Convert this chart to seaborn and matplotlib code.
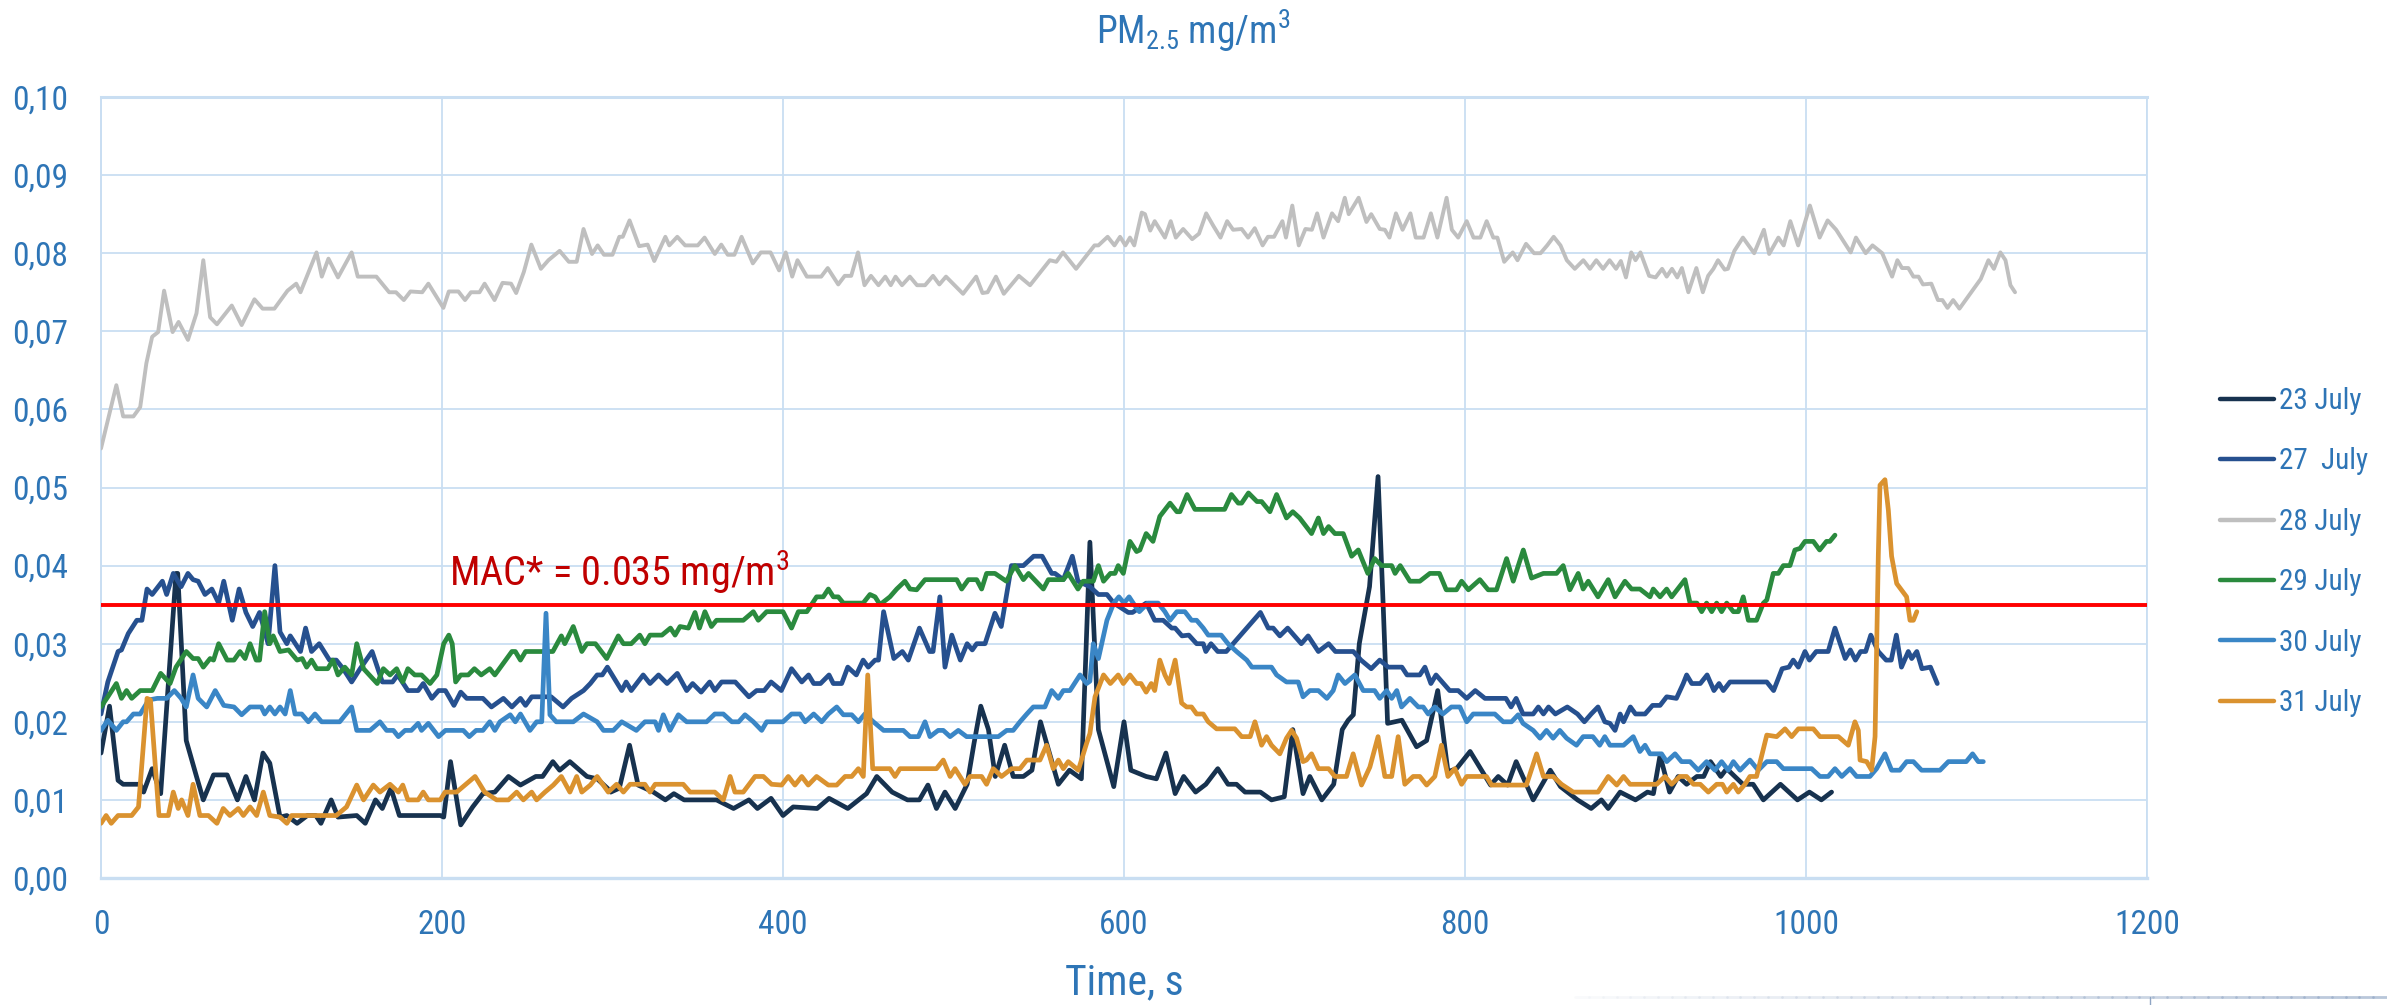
import numpy as np
import pandas as pd
import matplotlib
matplotlib.use("Agg")
import matplotlib.pyplot as plt
from matplotlib import font_manager
from matplotlib.ticker import FuncFormatter
from matplotlib.lines import Line2D
import seaborn as sns

# PM2.5 concentration (mg/m3) vs. time (s), one list of (time, value) per measuring day
JULY_23 = [(0,.0160),(5,.0220),(10,.0125),(13,.0120),(19,.0120),(23,.0120),(25,.0110),(30,.0140),(35,.0108),(44,.0390),(45,.0390),(50,.0176),(56,.0130),(60,.0100),(66,.0132),(74,.0132),(80,.0100),(85,.0130),(90,.0100),(95,.0160),(99,.0147),(105,.0078),(109,.0080),(115,.0070),(121,.0080),(126,.0080),(129,.0070),(135,.0100),(139,.0078),(150,.0080),(155,.0070),(161,.0100),(165,.0089),(170,.0115),(175,.0080),(199,.0080),(201,.0078),(205,.0149),(211,.0068),(218,.0091),(224,.0108),(231,.0110),(239,.0130),(246,.0119),(255,.0130),(259,.0130),(265,.0149),(269,.0138),(275,.0149),(285,.0130),(291,.0127),(297,.0115),
           (299,.0110),(304,.0115),(310,.0170),(315,.0119),(324,.0110),(331,.0100),(336,.0108),(342,.0100),(361,.0100),(371,.0089),(380,.0100),(385,.0089),(393,.0102),(400,.0080),(406,.0091),(420,.0089),(427,.0102),(438,.0089),(449,.0108),(455,.0130),(464,.0110),(473,.0100),(480,.0100),(485,.0119),(490,.0089),(495,.0110),(501,.0089),(508,.0120),(512,.0172),(516,.0220),(520.5,.0190),(524.5,.0130),(530,.0170),(535,.0130),(541,.0130),(546,.0138),(551,.0200),(561.5,.0120),(568,.0138),(575,.0127),(580,.0430),
           (585,.0190),(594,.0117),(600,.0200),(604,.0138),(613,.0130),(619,.0127),(624.6,.0160),(630,.0108),(635,.0130),(642,.0110),(648,.0120),(655,.0140),(661,.0120),(666,.0120),(671,.0110),(680,.0110),(686.5,.0100),(694,.0104),(699,.0190),(705,.0108),(709,.0130),(716,.0100),(723,.0120),(728,.0190),(731.5,.0202),(734.5,.0209),(738,.0300),(744,.0373),(749,.0514),(752,.0350),(754.6,.0198),(763,.0202),(771.6,.0168),(777.5,.0176),(784,.0240),(790,.0136),(795,.0140),(803,.0162),(815,.0119),(819.5,.0130),(825,.0119),(830,.0149),(840,.0100),(850,.0138),(856,.0117),(866,.0100),(874,.0089),(880,.0100),(884,.0089),
           (891,.0110),(900,.0100),(907,.0110),(910.5,.0108),(914.4,.0157),(920,.0110),(925,.0130),(930,.0120),(936,.0130),(940,.0130),(944,.0149),(950,.0130),(953.5,.0140),(963,.0120),(969,.0120),(975,.0100),(985,.0120),(995,.0100),(1002,.0110),(1009,.0100),(1015,.0110)]

JULY_27 = [(0,.0210),(4,.0251),(10,.0290),(12,.0292),(16,.0313),(21,.0330),(24,.0330),(27,.0370),(30,.0363),(36,.0380),(38.5,.0363),(42.4,.0390),(47,.0373),(51,.0390),(54,.0382),(57,.0380),(61,.0363),(65,.0370),(69,.0352),(72,.0380),(77,.0330),(81,.0370),(85,.0340),(89,.0322),(93,.0340),(98,.0300),(102,.0400),(105,.0315),(109,.0300),(111,.0310),(117,.0290),(120,.0320),(123.5,.0290),(128,.0300),(134,.0279),(138,.0279),(142,.0268),(147,.0251),(152,.0268),(159,.0290),(165,.0251),(171,.0251),(174,.0260),(180,.0240),(186,.0240),(189,.0249),(194,.0230),(198,.0240),(202,.0240),(207,.0221),(211,.0238),(214.5,.0230),(224,.0230),(229,.0219),(236,.0230),(241,.0219),(246,.0230),(249,.0221),(252.6,.0232),(264,.0232),(271,.0219),(276,.0230),(283,.0240),(287,.0249),(291,.0260),(294,.0260),(297,.0270),
           (305.4,.0240),(308,.0251),(311,.0240),(318,.0260),(322,.0249),(327,.0260),(332,.0249),(338,.0262),(343.5,.0240),(347,.0249),(352,.0238),(357,.0251),(360,.0240),(364,.0251),(372,.0251),(380,.0232),(384.5,.0240),(389,.0240),(393,.0251),(399,.0240),(405,.0268),(411,.0251),(415,.0260),(418,.0249),(422,.0249),(427,.0260),(429.5,.0249),(434.4,.0249),(438,.0270),(443,.0260),(447,.0279),(450,.0270),(454,.0279),(456,.0279),(459,.0341),(465,.0281),(470,.0290),(473.5,.0279),(480,.0320),(486,.0290),(488,.0290),(492,.0360),(495,.0270),(499,.0311),(504,.0279),(508,.0300),(511,.0292),(513.6,.0300),(518.5,.0300),(524.3,.0339),(528,.0322),(534,.0400),(541,.0400),(547,.0412),(552,.0412),(557.6,.0390),(559.5,.0390),(564.4,.0382),(569.7,.0412),(573,.0380),
           (580,.0373),(585,.0363),(590,.0363),(594,.0352),(602.5,.0340),(605,.0340),(613,.0352),(618,.0330),(623,.0330),(628,.0320),(630,.0320),(634,.0310),(638,.0311),(642.6,.0300),(646.5,.0300),(648,.0290),(651,.0300),(655,.0290),(660,.0290),(664,.0300),(670,.0315),(680,.0340),(684.6,.0320),(687.5,.0320),(691.4,.0310),(696,.0320),(704,.0300),(708,.0310),(714,.0290),(720,.0300),(724,.0290),(734.5,.0290),(739,.0279),(745,.0268),(750,.0279),(755,.0270),(763,.0270),(766,.0260),(773.5,.0260),(776.5,.0270),(780,.0249),(783,.0260),(791,.0240),(796,.0240),(801,.0230),(806,.0240),(811.7,.0230),(824,.0230),(827,.0219),(830,.0230),(834,.0210),(840,.0210),(843,.0219),(846,.0210),(849,.0219),(853,.0210),(860,.0219),(866,.0210),(870,.0200),(874,.0210),(878,.0219),(882,.0200),
           (885,.0198),(888,.0189),(891,.0210),(893,.0200),(897,.0219),(900,.0210),(905.6,.0210),(910,.0221),(914.4,.0221),(918.3,.0232),(924,.0230),(928,.0249),(930,.0260),(933,.0249),(938,.0249),(942,.0260),(946,.0240),(949,.0249),(951.5,.0240),(955.4,.0251),(977,.0251),(981,.0240),(986,.0268),(990,.0270),(992.5,.0279),(995.5,.0270),(999.4,.0290),(1002,.0279),(1006,.0290),(1013,.0290),(1017,.0320),(1023,.0281),(1026,.0292),(1029,.0279),(1032,.0290),(1035,.0290),(1038,.0311),(1042.4,.0290),(1047,.0279),(1050,.0279),(1053,.0311),(1056,.0270),(1060,.0290),(1062,.0281),(1065,.0290),(1068,.0268),(1073,.0270),(1077,.0249)]

JULY_28 = [(0,.0550),(9,.0631),(13,.0591),(19,.0591),(23,.0603),(26.6,.0659),(30,.0693),(33.5,.0699),(37,.0752),(42,.0699),(45.5,.0712),(51,.0689),(56,.0723),(60,.0791),(64,.0718),(68,.0709),(76.7,.0733),(82.5,.0708),(90,.0741),(94.8,.0729),(101.7,.0729),(109.4,.0752),(114.5,.0761),(117,.0750),(126.4,.0801),(129.5,.0770),(133.4,.0793),(139,.0769),(147,.0801),(150.6,.0770),(161.5,.0770),(169,.0750),(173,.0750),(177.6,.0740),(181.5,.0751),(188.4,.0750),(192,.0761),(200.8,.0730),(204,.0751),(209.6,.0751),(213.5,.0740),(217,.0750),(222,.0750),(225,.0761),(230.8,.0740),(235.5,.0762),(240.5,.0761),(243.5,.0749),(248,.0776),(252.4,.0811),(258,.0780),(262.4,.0791),(269,.0803),(274.4,.0789),(279,.0789),(283,.0831),(288,.0799),(291.3,.0810),(295,.0798),(300,.0798),(304,.0821),(306,.0821),(310,.0842),(315.6,.0809),(320.6,.0811),(324.5,.0790),(331,.0821),(333.3,.0810),(338,.0821),(342.6,.0810),(350,.0810),(354,.0820),(360,.0799),(363.8,.0811),(367.6,.0798),(371.5,.0798),(375.7,.0821),(382.3,.0787),(387,.0801),(392.7,.0801),(397.7,.0778),(401.6,.0801),(405.4,.0770),(408.5,.0791),(414,.0770),(422.4,.0770),(426.2,.0781),(432.4,.0760),(436.2,.0771),(440,.0771),(444,.0801),(447.8,.0759),(451.6,.0771),(456,.0759),(460,.0770),(463.2,.0759),(466,.0770),(469.8,.0759),(474.4,.0770),(478.6,.0759),(483.3,.0759),(488,.0771),(491.7,.0760),(495.6,.0770),(500.6,.0759),(505.6,.0748),(513.3,.0770),(517,.0749),(520,.0750),(524.9,.0770),(529.5,.0748),(538.3,.0771),(544.9,.0759),(556.5,.0791),(560.3,.0789),(564.2,.0801),(571.9,.0780),(582.7,.0810),(585,.0810),(590.4,.0821),(594.4,.0810),(597.7,.0821),
           (600.8,.0810),(603.5,.0820),(606,.0810),(610.4,.0852),(612.3,.0850),(615.4,.0829),(618,.0841),(624,.0820),(627.4,.0841),(630.4,.0820),(634.7,.0831),(640,.0818),(644,.0825),(648.2,.0851),(652.4,.0835),(656.6,.0820),(660.5,.0841),(664,.0830),(669,.0831),(672.8,.0820),(676.7,.0832),(681.3,.0810),(684.4,.0821),(688,.0821),(692.9,.0841),(695,.0820),(698.7,.0861),(702.5,.0810),(706.4,.0831),(710.2,.0830),(713.3,.0851),(717,.0820),(722,.0851),(725.6,.0841),(729.5,.0871),(731.8,.0850),(737.6,.0871),(742.2,.0840),(745,.0850),(750,.0831),(753,.0830),(755.7,.0820),(759.5,.0851),(763.4,.0830),(768,.0851),(771.1,.0820),(775.7,.0820),(780,.0851),(783.8,.0820),(789.2,.0871),(792.3,.0830),(796,.0820),(801,.0841),(805,.0820),(809,.0820),(812.7,.0841),(816.6,.0820),(819,.0820),(823,.0789),(828,.0801),(830.8,.0791),(835.8,.0812),(840.5,.0800),(844.3,.0800),(848.2,.0810),(852,.0821),(856,.0810),(859.7,.0791),(864.4,.0780),(869.4,.0791),(873.3,.0780),(877,.0791),(881,.0780),(884.8,.0791),(888.6,.0780),(891.4,.0790),(894.4,.0769),(897.5,.0801),(900,.0791),(902.9,.0801),(908,.0771),(911.8,.0769),(915.6,.0780),(918.3,.0770),(921.4,.0780),(924.5,.0769),(927.2,.0781),(931,.0750),(935.7,.0781),(939.5,.0750),(942.6,.0771),(945.7,.0780),(948.4,.0791),(952.3,.0779),(954.2,.0780),(958,.0803),(963,.0820),(969.6,.0800),(975.3,.0830),(978.4,.0799),(983.8,.0820),(986.9,.0810),(990.8,.0841),(995.4,.0810),(1002.3,.0861),(1008,.0820),(1012.7,.0842),(1017.7,.0830),(1026.2,.0801),(1029.3,.0820),(1035,.0800),(1039,.0810),(1044.7,.0800),(1050.5,.0770),(1053.6,.0791),(1056.3,.0781),(1060,.0781),(1063,.0770),(1066,.0770),(1068.6,.0760),(1073.5,.0761),(1077.4,.0740),(1080,.0740),(1083,.0730),(1086.3,.0740),(1090,.0729),(1102.5,.0767),(1107,.0791),(1110.2,.0780),(1114,.0801),(1117,.0791),(1119.9,.0759),(1122.6,.0750)]

JULY_29 = [(0,.0219),(4,.0232),(9,.0249),(12,.0230),(15,.0240),(18,.0230),(23,.0240),(30,.0240),(35,.0262),(40.5,.0249),(44,.0270),(50,.0290),(54,.0281),(57,.0281),(60,.0270),(64,.0281),(66,.0279),(69,.0300),(74,.0279),(78,.0279),(81.5,.0290),(84.5,.0281),(87.4,.0300),(91,.0279),(93,.0279),(96,.0341),(99,.0300),(101,.0310),(105,.0290),(110,.0292),(115,.0279),(118,.0281),(120.6,.0270),(123.5,.0279),(126.5,.0268),(133,.0268),(136,.0279),(139,.0260),(143,.0270),(147,.0260),(150,.0300),(154,.0268),(162,.0249),(165.6,.0268),(169.5,.0260),(173.4,.0268),(177,.0251),(180,.0268),(184,.0260),(188,.0260),(193,.0249),(197,.0260),(201,.0300),(204,.0311),(206,.0300),(208,.0251),(211,.0260),(215.4,.0260),(219,.0268),(223,.0260),(228,.0268),(231,.0260),(241,.0290),(243,.0290),(246,.0279),(249,.0290),(258.6,.0290),(265,.0290),(270,.0310),(272,.0300),(277,.0322),(282,.0290),(285,.0300),(290,.0300),(296.6,.0281),(303.4,.0310),(306.4,.0300),(311,.0300),(316,.0311),(319,.0300),(322,.0311),(329,.0311),(334,.0320),(336.7,.0311),(339.6,.0322),(344.5,.0320),(348.4,.0340),(351,.0320),(354.2,.0341),(358,.0322),(361,.0330),(376.7,.0330),(382.6,.0341),(385.5,.0330),(390.4,.0341),(400,.0341),(405,.0320),(409,.0341),(414,.0341),(419.7,.0360),(423.6,.0360),(426.6,.0370),(429.5,.0360),(432.4,.0360),(435.4,.0352),(447,.0352),(451,.0363),(454,.0360),(456.9,.0350),(462.7,.0360),(466.7,.0370),(471.5,.0380),(474.5,.0370),(478.4,.0369),(483.3,.0382),(501.9,.0382),(504.8,.0370),(508.7,.0382),(513.6,.0382),(516.5,.0370),(519.4,.0390),(524.3,.0390),(531,.0380),(536,.0400),(541,.0382),(544,.0390),(552.7,.0370),(555.6,.0382),(564.4,.0382),(567.3,.0390),(573,.0370),(576,.0380),(582,.0380),(585,.0400),(588,.0380),(592,.0390),(594.7,.0390),(596.6,.0400),(599.6,.0390),
           (603.5,.0431),(607.4,.0418),(609.3,.0420),(613,.0441),(617,.0431),(621,.0463),(627,.0480),(631,.0469),(632.8,.0469),(637,.0491),(641.6,.0472),(659,.0472),(663,.0491),(667,.0480),(669,.0480),(673,.0493),(678,.0482),(680.7,.0482),(685.6,.0469),(689.5,.0491),(695.3,.0461),(699,.0469),(703,.0461),(710,.0441),(714,.0461),(717,.0441),(720,.0450),(723.7,.0441),(728.6,.0441),(733.5,.0412),(737.4,.0420),(743,.0390),(747,.0409),(751,.0400),(757,.0400),(759,.0390),(762,.0400),(767.7,.0380),(773.5,.0380),(779.4,.0390),(785,.0390),(789,.0369),(795,.0369),(798,.0380),(802,.0369),(808.7,.0382),(813.6,.0369),(818.5,.0369),(824.4,.0409),(828.3,.0380),(834.2,.0420),(839,.0384),(846,.0390),(853.7,.0390),(857.6,.0400),(861.5,.0369),(866.4,.0390),(869.3,.0370),(872.3,.0380),(878,.0360),(884,.0382),(888,.0360),(893.8,.0380),(897.7,.0370),(902.6,.0370),(908.5,.0360),(910.4,.0370),(914.4,.0360),(918.3,.0370),(921.2,.0360),(929,.0382),(932,.0352),(936,.0352),(938.8,.0341),(941.7,.0352),(944.7,.0341),(947.6,.0352),(950.5,.0341),(953.5,.0352),(957.4,.0341),(960.3,.0341),(963.2,.0360),(966.2,.0330),(971,.0330),(975,.0352),(977,.0356),(980.8,.0390),(983.8,.0390),(986.7,.0400),(990.6,.0400),(993.5,.0420),(996.5,.0422),(999.4,.0431),(1004.3,.0431),(1008,.0420),(1012,.0431),(1014,.0431),(1017,.0439)]

JULY_30 = [(0,.0189),(4,.0202),(9,.0189),(13,.0200),(15,.0200),(19,.0210),(23,.0210),(28,.0228),(33,.0230),(38.5,.0230),(43,.0240),(47,.0230),(50,.0219),(54,.0260),(57,.0230),(62,.0219),(67,.0240),(72,.0221),(78,.0219),(82.5,.0209),(87.4,.0219),(94,.0219),(96,.0210),(99,.0219),(102,.0210),(105,.0219),(108,.0210),(111,.0240),(113.8,.0210),(117.7,.0210),(121.6,.0200),(125.5,.0210),(129.4,.0200),(140,.0200),(147,.0219),(150,.0189),(157.8,.0189),(163.6,.0200),(167.5,.0189),(171.5,.0189),(174.4,.0181),(178.3,.0189),(182,.0189),(186,.0198),(188,.0189),(192,.0198),(198,.0181),(202,.0189),(212.5,.0189),(216,.0181),(220,.0189),(224,.0189),(228,.0200),(231,.0189),(234,.0200),(240,.0209),(243,.0200),(246,.0210),(251.6,.0189),(255.5,.0200),(258.5,.0200),(261,.0339),(263.3,.0209),(267,.0200),(277,.0200),(283,.0210),(291,.0200),(294.7,.0189),(300.5,.0189),(305.4,.0200),(314,.0189),(319,.0200),(325,.0200),(327,.0189),(329.8,.0209),(333.7,.0189),(338.6,.0209),(343.5,.0200),(355.2,.0200),(360,.0210),(365,.0210),(370,.0200),(374,.0200),(377.7,.0209),(382.6,.0200),(387.5,.0189),(390.4,.0200),(400,.0200),(405,.0210),(410,.0210),(413,.0200),(418,.0210),(422.7,.0200),(426.6,.0210),(431.5,.0219),(435.4,.0209),(440.3,.0209),(444.2,.0200),(448,.0210),(453,.0200),(459,.0189),(470.6,.0189),(474.5,.0181),(479.4,.0181),(483.3,.0200),(486.2,.0181),(491,.0189),(494,.0189),(498,.0181),(502.8,.0189),(507.7,.0181),(526.3,.0181),(531.2,.0189),(535,.0189),(539,.0200),(543,.0210),(546.8,.0219),(553.6,.0219),(557.6,.0240),(561.5,.0230),(564.4,.0240),(568.3,.0240),(574.2,.0260),(578.1,.0249),(580,.0252),(582,.0300),(585,.0281),(590,.0330),(594,.0352),(597,.0360),(600,.0352),(603,.0360),(606,.0350),(609,.0341),(614,.0352),(620,.0352),(624,.0341),(627,.0330),(631,.0341),(635.7,.0341),(639.6,.0330),(642.6,.0330),(646.5,.0320),(649.4,.0311),(657,.0311),(661,.0300),(666,.0290),(672,.0279),(675,.0270),(686.5,.0270),(689.5,.0260),(695.3,.0251),(702.2,.0251),(705,.0232),(709,.0240),(714,.0240),(719,.0230),(722.7,.0240),(725.6,.0260),(729.6,.0249),(735.4,.0260),(740.3,.0240),(747,.0240),(750,.0230),(754,.0240),(757,.0230),(760,.0240),(762.8,.0219),(767.7,.0230),(772.6,.0219),(775.5,.0219),(778.4,.0210),(782.3,.0219),(787,.0210),(792,.0219),(797,.0219),(801,.0200),(804.8,.0210),(817.5,.0210),(822.4,.0200),(827.3,.0200),(831.2,.0209),(834,.0198),(840,.0189),(844,.0179),(847.8,.0189),(851.7,.0179),(855.6,.0189),(859.6,.0179),(865.4,.0170),(869.3,.0181),(875,.0181),(879,.0170),(882,.0181),(885,.0170),(893,.0170),(898.7,.0181),(902.6,.0162),(905.6,.0170),(908.5,.0159),(915.3,.0159),(918.3,.0149),(923.2,.0159),(927,.0149),(932,.0149),(936.8,.0138),(941.7,.0149),(946.6,.0138),(950.5,.0149),(954.4,.0138),(957.4,.0149),(961.3,.0138),(967.1,.0151),(972,.0138),(977,.0149),(982.8,.0149),(986.7,.0140),(1003.3,.0140),(1008.2,.0130),(1013,.0130),(1017,.0140),(1021,.0130),(1025.8,.0140),(1029.7,.0130),(1037.5,.0130),(1041.4,.0140),(1046.3,.0159),(1050.2,.0138),(1055,.0138),(1059,.0149),(1063,.0149),(1067.8,.0138),(1078.6,.0138),(1083.5,.0149),(1094,.0149),(1097.7,.0159),(1101,.0149),(1104,.0149)]

JULY_31 = [(0,.0070),(3,.0080),(6,.0070),(10,.0080),(18,.0080),(22,.0091),(27,.0230),(29,.0228),(34,.0080),(39.5,.0080),(42.4,.0110),(45.3,.0089),(47.3,.0100),(51,.0080),(54,.0120),(58,.0080),(63,.0080),(68,.0070),(71.7,.0089),(75.6,.0080),(80.5,.0089),(83.5,.0080),(87.4,.0091),(91.3,.0080),(95.2,.0110),(99,.0080),(105,.0078),(109,.0070),(111.8,.0080),(138,.0080),(144,.0091),(150,.0119),(154,.0100),(159.7,.0119),(163.6,.0110),(169.5,.0120),(174.4,.0110),(177,.0119),(180,.0100),(186,.0100),(189,.0110),(192,.0100),(199,.0100),(201.8,.0110),(208.6,.0110),(213.5,.0119),(219.4,.0130),(225,.0110),(232,.0100),(239,.0100),(243.8,.0110),(247.7,.0100),(252.6,.0110),(255.5,.0100),(260.4,.0110),(265.3,.0119),(270,.0130),(275,.0110),(279,.0130),(282,.0110),(287,.0119),(291,.0130),(297.5,.0110),(302.4,.0120),(306.4,.0110),(310.3,.0120),(319,.0120),(322,.0110),(325,.0120),(341.5,.0120),(345.5,.0110),(360,.0110),(365,.0100),(369,.0130),(371.8,.0110),(376.7,.0110),(383.6,.0130),(388.5,.0130),(393.3,.0120),(399.2,.0119),(403.1,.0130),(407,.0119),(411,.0130),(414.8,.0119),(419.7,.0130),(426.6,.0119),(431.5,.0119),(436.4,.0130),(440.3,.0130),(444.2,.0140),(447.1,.0130),(449.7,.0260),(452.6,.0140),(462.7,.0140),(465.7,.0130),(468.6,.0140),(490,.0140),(494,.0151),(498,.0130),(500.9,.0140),(503.8,.0130),(506.7,.0120),(509.7,.0130),(516.5,.0130),(519.4,.0120),(523.3,.0140),(528.2,.0130),(534.1,.0140),(539,.0140),(543,.0151),(550.7,.0151),(554.6,.0170),(558.5,.0140),(561.5,.0151),(564.4,.0140),(567.3,.0149),(573.2,.0138),(578,.0172),(580,.0185),(583,.0232),(588,.0260),(592,.0249),(596.6,.0260),(599.6,.0249),(603.5,.0260),(607.4,.0249),(610,.0249),(613,.0238),(616,.0249),(618,.0240),(621,.0279),(624,.0260),(626.5,.0249),(630,.0279),(633.8,.0224),(636.7,.0219),(639.6,.0219),(642.6,.0210),(646.5,.0210),(649.4,.0200),(654.3,.0191),(665,.0191),(669,.0181),(674,.0181),(676.8,.0200),(680.7,.0170),(683.6,.0181),(686.5,.0170),(691.4,.0159),(695.3,.0179),(698.3,.0189),(701.2,.0179),(705,.0149),(707,.0151),(710,.0159),(714,.0140),(720,.0140),(723.7,.0130),(730.5,.0130),(734.4,.0159),(739.3,.0119),(744.2,.0142),(749,.0181),(753,.0130),(757,.0130),(760.8,.0181),(764.7,.0120),(769.6,.0130),(773.5,.0130),(777.5,.0119),(782.3,.0130),(786.2,.0170),(790,.0130),(794,.0140),(798,.0120),(801,.0130),(812.6,.0130),(815.6,.0119),(836,.0119),(842,.0159),(846,.0130),(851.7,.0130),(856.6,.0120),(863.5,.0110),(878,.0110),(884,.0130),(889,.0119),(893,.0130),(896.8,.0120),(912.4,.0120),(917.3,.0130),(921.2,.0120),(926,.0130),(930,.0130),(934,.0120),(938,.0120),(942.7,.0110),(947.6,.0120),(951,.0120),(953.5,.0110),(957.4,.0120),(960.3,.0110),(964.2,.0120),(967.1,.0130),(971,.0130),(977,.0183),(982.8,.0181),(987.7,.0191),(991.6,.0181),(995.5,.0191),(1004.3,.0191),(1008.2,.0181),(1019,.0181),(1024.8,.0170),(1028.7,.0200),(1030.7,.0189),(1031.7,.0151),(1035.6,.0149),(1038.5,.0138),(1040.5,.0181),(1042.4,.0412),(1043.4,.0503),(1046.3,.0510),(1048.3,.0471),(1050.2,.0412),(1053.2,.0377),(1059,.0360),(1061,.0330),(1063,.0330),(1065,.0341)]

SERIES = [("23 July", JULY_23), ("27  July", JULY_27), ("28 July", JULY_28),
          ("29 July", JULY_29), ("30 July", JULY_30), ("31 July", JULY_31)]
COLORS = ["#17324f", "#26508f", "#bfbfbf", "#2a8a3e", "#3a86c6", "#da922f"]
WIDTHS = [3.4, 3.4, 2.8, 3.4, 3.4, 3.4]

MAC_LEVEL = 0.035
X_TICKS = [0, 200, 400, 600, 800, 1000, 1200]
Y_TICKS = [0.00, 0.01, 0.02, 0.03, 0.04, 0.05, 0.06, 0.07, 0.08, 0.09, 0.10]

TEXT_BLUE = "#2e75b6"
GRID_BLUE = "#c9def2"

# prefer a narrow face if one is installed
_installed = {f.name for f in font_manager.fontManager.ttflist}
_narrow = [n for n in ["Roboto Condensed", "Open Sans Condensed", "Liberation Sans Narrow",
                       "DejaVu Sans Condensed", "Noto Sans Condensed", "Noto Sans Display"]
           if n in _installed]
FONTS = _narrow + ["Roboto", "DejaVu Sans"]
NARROW = bool(_narrow)

sns.set_theme(style="white")
plt.rcParams["font.family"] = FONTS
plt.rcParams["font.stretch"] = "condensed"
plt.rcParams["mathtext.fontset"] = "custom"
plt.rcParams["mathtext.rm"] = FONTS[0]
plt.rcParams["mathtext.default"] = "regular"

S_TICK = 24 if NARROW else 19
S_LEG = 21 if NARROW else 17
S_MAC = 29 if NARROW else 25
S_TITLE = 27 if NARROW else 23
S_XLAB = 30 if NARROW else 25

frames = []
for label, pts in SERIES:
    arr = np.array(pts)
    frames.append(pd.DataFrame({"time": arr[:, 0], "pm": arr[:, 1], "day": label}))
df = pd.concat(frames, ignore_index=True)

fig = plt.figure(figsize=(23.87, 10.05), dpi=100)
ax = fig.add_axes([101 / 2387, 1 - 878 / 1005, 2046 / 2387, 781 / 1005])

sns.lineplot(data=df, x="time", y="pm", hue="day", hue_order=[s[0] for s in SERIES],
             palette=COLORS, sort=False, estimator=None, linewidth=3.4, ax=ax,
             legend=False, zorder=3)
for line, lw in zip(ax.get_lines(), WIDTHS):
    line.set_linewidth(lw)
    line.set_solid_joinstyle("round")
    line.set_solid_capstyle("round")

# permissible level
ax.axhline(MAC_LEVEL, color="#ff0000", linewidth=2.8, zorder=5)
ax.text(204, 0.0374, "MAC* = 0.035 mg/m$^3$", color="#c00000", fontsize=S_MAC,
        ha="left", va="baseline", zorder=6)

ax.set_xlim(0, 1200)
ax.set_ylim(0, 0.10)
ax.set_xticks(X_TICKS)
ax.set_yticks(Y_TICKS)
ax.yaxis.set_major_formatter(FuncFormatter(lambda v, _: f"{v:.2f}".replace(".", ",")))
ax.xaxis.set_major_formatter(FuncFormatter(lambda v, _: f"{v:.0f}"))
ax.tick_params(axis="both", length=0, labelsize=S_TICK, labelcolor=TEXT_BLUE)
ax.tick_params(axis="x", pad=22)
ax.tick_params(axis="y", pad=24)

ax.grid(True, color=GRID_BLUE, linewidth=1.3, zorder=0)
ax.set_axisbelow(True)
for side, lw in [("left", 1.4), ("right", 1.3), ("top", 2.2), ("bottom", 2.4)]:
    ax.spines[side].set_visible(True)
    ax.spines[side].set_color(GRID_BLUE)
    ax.spines[side].set_linewidth(lw)

ax.set_ylabel("")
ax.set_xlabel("Time, s", fontsize=S_XLAB, color=TEXT_BLUE)
ax.xaxis.set_label_coords(0.5, -0.108)

fig.text(0.5, 1 - 8 / 1005, "PM$_{2.5}$ mg/m$^3$", ha="center", va="top",
         fontsize=S_TITLE, color=TEXT_BLUE)

handles = [Line2D([0], [0], color=c, linewidth=3.2, solid_capstyle="round") for c in COLORS]
fig.legend(handles, [s[0] for s in SERIES], loc="center left",
           bbox_to_anchor=(2220 / 2387, 1 - 552 / 1005), frameon=False,
           fontsize=S_LEG, labelcolor=TEXT_BLUE, handlelength=1.85,
           handletextpad=0.17, labelspacing=1.11, borderpad=0, borderaxespad=0)

# faint rule at the lower right of the canvas
xs = np.linspace(0.66, 1.0, 60)
for i in range(len(xs) - 1):
    fig.add_artist(Line2D([xs[i], xs[i + 1]], [0.008, 0.008], transform=fig.transFigure,
                          color="#8fa5c4", linewidth=2, alpha=0.05 + 0.6 * i / len(xs)))
fig.add_artist(Line2D([2150 / 2387, 2150 / 2387], [0.0, 0.008], transform=fig.transFigure,
                      color="#8fa5c4", linewidth=1))

fig.savefig("out.png", dpi=100)
